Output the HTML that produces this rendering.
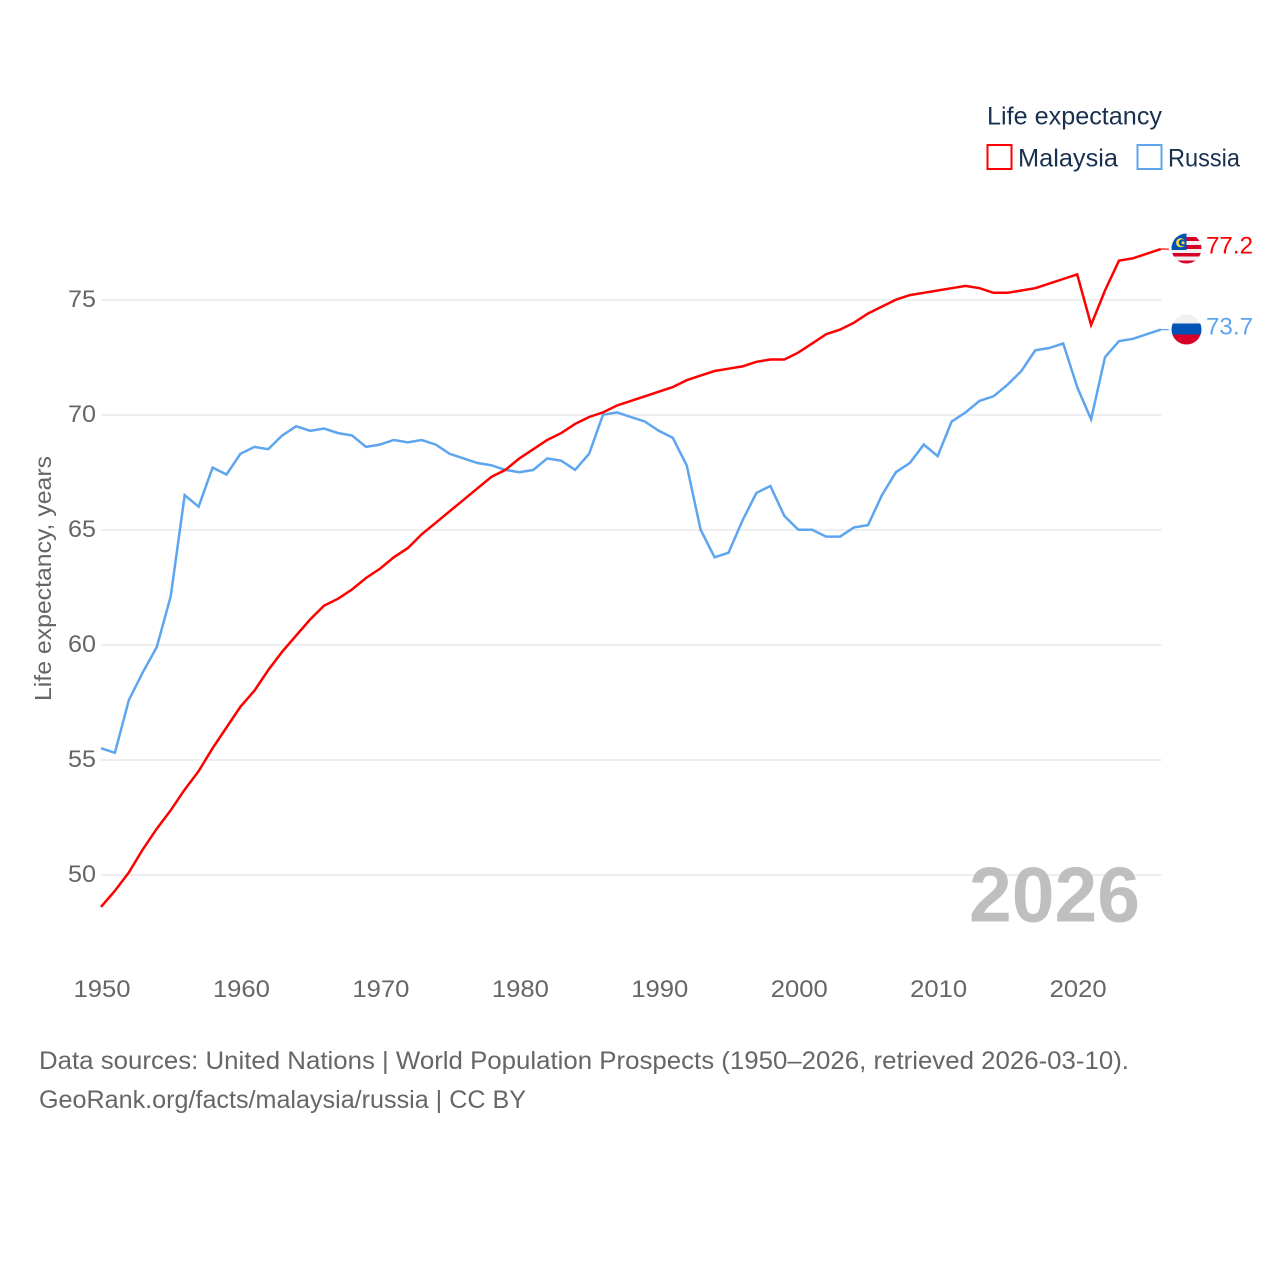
<!DOCTYPE html>
<html lang="en">
<head>
<meta charset="utf-8">
<title>Life expectancy: Malaysia and Russia</title>
<style>
html,body{margin:0;padding:0;background:#fff;width:1280px;height:1280px;overflow:hidden}
svg{display:block}
text{font-family:"Liberation Sans",sans-serif}
</style>
</head>
<body>
<svg id="chart" xmlns="http://www.w3.org/2000/svg" width="1280" height="1280" viewBox="0 0 1280 1280">
  <defs>
    <clipPath id="flag-clip-my"><circle cx="0" cy="0" r="15"></circle></clipPath>
    <clipPath id="flag-clip-ru"><circle cx="0" cy="0" r="15"></circle></clipPath>
  </defs>
  <g id="grid"></g>
  <text x="969" y="921.5" font-size="78" font-weight="700" fill="#bfbfbf" textLength="171" lengthAdjust="spacingAndGlyphs">2026</text>
  <g id="series"></g>
  <g id="yticks"></g>
  <g id="xticks"></g>
  <text transform="translate(51,701) rotate(-90)" font-size="23" fill="#666" textLength="245" lengthAdjust="spacingAndGlyphs">Life expectancy, years</text>

  <g>
    <text x="987" y="124.5" font-size="25" fill="#18304f" textLength="175" lengthAdjust="spacingAndGlyphs">Life expectancy</text>
    <g>
      <rect x="987.5" y="145" width="24" height="24" fill="#fff" stroke="#ff0000" stroke-width="2"></rect>
      <text x="1018" y="166.5" font-size="25" fill="#18304f" textLength="100" lengthAdjust="spacingAndGlyphs">Malaysia</text>
    </g>
    <g>
      <rect x="1137.5" y="145" width="24" height="24" fill="#fff" stroke="#5da5ee" stroke-width="2"></rect>
      <text x="1168" y="166.5" font-size="25" fill="#18304f" textLength="72" lengthAdjust="spacingAndGlyphs">Russia</text>
    </g>
  </g>

  <g id="flag-my">
    <g clip-path="url(#flag-clip-my)">
      <rect x="-15" y="-15" width="30" height="30" fill="#f0f0f0"></rect>
      <rect x="-15" y="-11.5" width="30" height="4" fill="#d80027"></rect>
      <rect x="-15" y="-3.5" width="30" height="4" fill="#d80027"></rect>
      <rect x="-15" y="4.5" width="30" height="3.5" fill="#d80027"></rect>
      <rect x="-15" y="12" width="30" height="3.5" fill="#d80027"></rect>
      <rect x="-15" y="-15" width="15" height="16.5" fill="#0052b4"></rect>
      <circle cx="-5.8" cy="-5.8" r="4.6" fill="#ffda44"></circle>
      <circle cx="-4.4" cy="-5.8" r="3.4" fill="#0052b4"></circle>
      <circle cx="-3.4" cy="-5.8" r="1.5" fill="#ffda44"></circle>
    </g>
  </g>
  <g id="flag-ru">
    <g clip-path="url(#flag-clip-ru)">
      <rect x="-15" y="-15" width="30" height="30" fill="#f0f0f0"></rect>
      <rect x="-15" y="-6" width="30" height="11" fill="#0052b4"></rect>
      <rect x="-15" y="5" width="30" height="10" fill="#d80027"></rect>
    </g>
  </g>
  <g id="endlabels"></g>

  <g>
    <text x="39" y="1069" font-size="25" fill="#666" textLength="1090" lengthAdjust="spacingAndGlyphs">Data sources: United Nations | World Population Prospects (1950–2026, retrieved 2026-03-10).</text>
    <text x="39" y="1108" font-size="25" fill="#666" textLength="487" lengthAdjust="spacingAndGlyphs">GeoRank.org/facts/malaysia/russia | CC BY</text>
  </g>
</svg>
<script>
const years = [1950,1951,1952,1953,1954,1955,1956,1957,1958,1959,1960,1961,1962,1963,1964,1965,1966,1967,1968,1969,1970,1971,1972,1973,1974,1975,1976,1977,1978,1979,1980,1981,1982,1983,1984,1985,1986,1987,1988,1989,1990,1991,1992,1993,1994,1995,1996,1997,1998,1999,2000,2001,2002,2003,2004,2005,2006,2007,2008,2009,2010,2011,2012,2013,2014,2015,2016,2017,2018,2019,2020,2021,2022,2023,2024,2025,2026];
const malaysia = [48.6,49.3,50.1,51.1,52.0,52.8,53.7,54.5,55.5,56.4,57.3,58.0,58.9,59.7,60.4,61.1,61.7,62.0,62.4,62.9,63.3,63.8,64.2,64.8,65.3,65.8,66.3,66.8,67.3,67.6,68.1,68.5,68.9,69.2,69.6,69.9,70.1,70.4,70.6,70.8,71.0,71.2,71.5,71.7,71.9,72.0,72.1,72.3,72.4,72.4,72.7,73.1,73.5,73.7,74.0,74.4,74.7,75.0,75.2,75.3,75.4,75.5,75.6,75.5,75.3,75.3,75.4,75.5,75.7,75.9,76.1,73.9,75.4,76.7,76.8,77.0,77.2];
const russia = [55.5,55.3,57.6,58.8,59.9,62.1,66.5,66.0,67.7,67.4,68.3,68.6,68.5,69.1,69.5,69.3,69.4,69.2,69.1,68.6,68.7,68.9,68.8,68.9,68.7,68.3,68.1,67.9,67.8,67.6,67.5,67.6,68.1,68.0,67.6,68.3,70.0,70.1,69.9,69.7,69.3,69.0,67.8,65.0,63.8,64.0,65.4,66.6,66.9,65.6,65.0,65.0,64.7,64.7,65.1,65.2,66.5,67.5,67.9,68.7,68.2,69.7,70.1,70.6,70.8,71.3,71.9,72.8,72.9,73.1,71.2,69.8,72.5,73.2,73.3,73.5,73.7];
const yTickValues = [50,55,60,65,70,75];
const xTickValues = [1950,1960,1970,1980,1990,2000,2010,2020];

const SVG_NS = 'http://www.w3.org/2000/svg';
function xScale(year) { return 101 + (year - 1950) * 13.945; }
function yScale(value) { return 874.7 - (value - 50) * 23; }
function make(tag, parent) {
  const node = document.createElementNS(SVG_NS, tag);
  parent.appendChild(node);
  return node;
}

const grid = document.getElementById('grid');
const yticks = document.getElementById('yticks');
yTickValues.forEach(function (v) {
  const line = make('line', grid);
  
  
  line.setAttribute('x1', 101);
  line.setAttribute('x2', 1161.5);
  line.setAttribute('y1', yScale(v) + 0.3);
  line.setAttribute('y2', yScale(v) + 0.3);
  line.setAttribute('stroke', '#e9e9e9');
  line.setAttribute('stroke-width', '1.4');
  const label = make('text', yticks);
  
  
  label.setAttribute('x', 68);
  label.setAttribute('y', yScale(v) + 7.3);
  label.setAttribute('font-size', '24');
  label.setAttribute('fill', '#666');
  label.setAttribute('textLength', '28');
  label.setAttribute('lengthAdjust', 'spacingAndGlyphs');
  label.textContent = String(v);
});

const xticks = document.getElementById('xticks');
xTickValues.forEach(function (y) {
  const label = make('text', xticks);
  
  
  label.setAttribute('x', xScale(y) - 27.5);
  label.setAttribute('y', 997);
  label.setAttribute('font-size', '24');
  label.setAttribute('fill', '#666');
  label.setAttribute('textLength', '57');
  label.setAttribute('lengthAdjust', 'spacingAndGlyphs');
  label.textContent = String(y);
});

function pathFor(values) {
  return values.map(function (v, i) {
    return (i ? 'L' : 'M') + xScale(years[i]).toFixed(1) + ' ' + yScale(v).toFixed(1);
  }).join(' ');
}

const seriesGroup = document.getElementById('series');

const russiaLine = make('path', seriesGroup);


russiaLine.setAttribute('d', pathFor(russia));
russiaLine.setAttribute('fill', 'none');
russiaLine.setAttribute('stroke', '#5da5ee');
russiaLine.setAttribute('stroke-width', '2.5');

const malaysiaLine = make('path', seriesGroup);


malaysiaLine.setAttribute('d', pathFor(malaysia));
malaysiaLine.setAttribute('fill', 'none');
malaysiaLine.setAttribute('stroke', '#ff0000');
malaysiaLine.setAttribute('stroke-width', '2.5');

const lastYear = years[years.length - 1];
const lastMalaysia = malaysia[malaysia.length - 1];
const lastRussia = russia[russia.length - 1];

const connectorMy = make('line', seriesGroup);


connectorMy.setAttribute('x1', xScale(lastYear));
connectorMy.setAttribute('x2', xScale(lastYear) + 8);
connectorMy.setAttribute('y1', yScale(lastMalaysia));
connectorMy.setAttribute('y2', yScale(lastMalaysia));
connectorMy.setAttribute('stroke', '#ff0000');
connectorMy.setAttribute('stroke-width', '1.2');

const connectorRu = make('line', seriesGroup);


connectorRu.setAttribute('x1', xScale(lastYear));
connectorRu.setAttribute('x2', xScale(lastYear) + 8);
connectorRu.setAttribute('y1', yScale(lastRussia));
connectorRu.setAttribute('y2', yScale(lastRussia));
connectorRu.setAttribute('stroke', '#5da5ee');
connectorRu.setAttribute('stroke-width', '1.2');

document.getElementById('flag-my').setAttribute('transform', 'translate(1186.5,' + (yScale(lastMalaysia) - 0.6) + ')');
document.getElementById('flag-ru').setAttribute('transform', 'translate(1186.5,' + (yScale(lastRussia) - 0.1) + ')');

const endLabels = document.getElementById('endlabels');

const endMy = make('text', endLabels);


endMy.setAttribute('x', 1206);
endMy.setAttribute('y', yScale(lastMalaysia) + 4.3);
endMy.setAttribute('font-size', '24');
endMy.setAttribute('fill', '#ff0000');
endMy.setAttribute('textLength', '47');
endMy.setAttribute('lengthAdjust', 'spacingAndGlyphs');
endMy.textContent = lastMalaysia.toFixed(1);

const endRu = make('text', endLabels);


endRu.setAttribute('x', 1206);
endRu.setAttribute('y', yScale(lastRussia) + 4.8);
endRu.setAttribute('font-size', '24');
endRu.setAttribute('fill', '#5da5ee');
endRu.setAttribute('textLength', '47');
endRu.setAttribute('lengthAdjust', 'spacingAndGlyphs');
endRu.textContent = lastRussia.toFixed(1);
</script>
</body>
</html>
